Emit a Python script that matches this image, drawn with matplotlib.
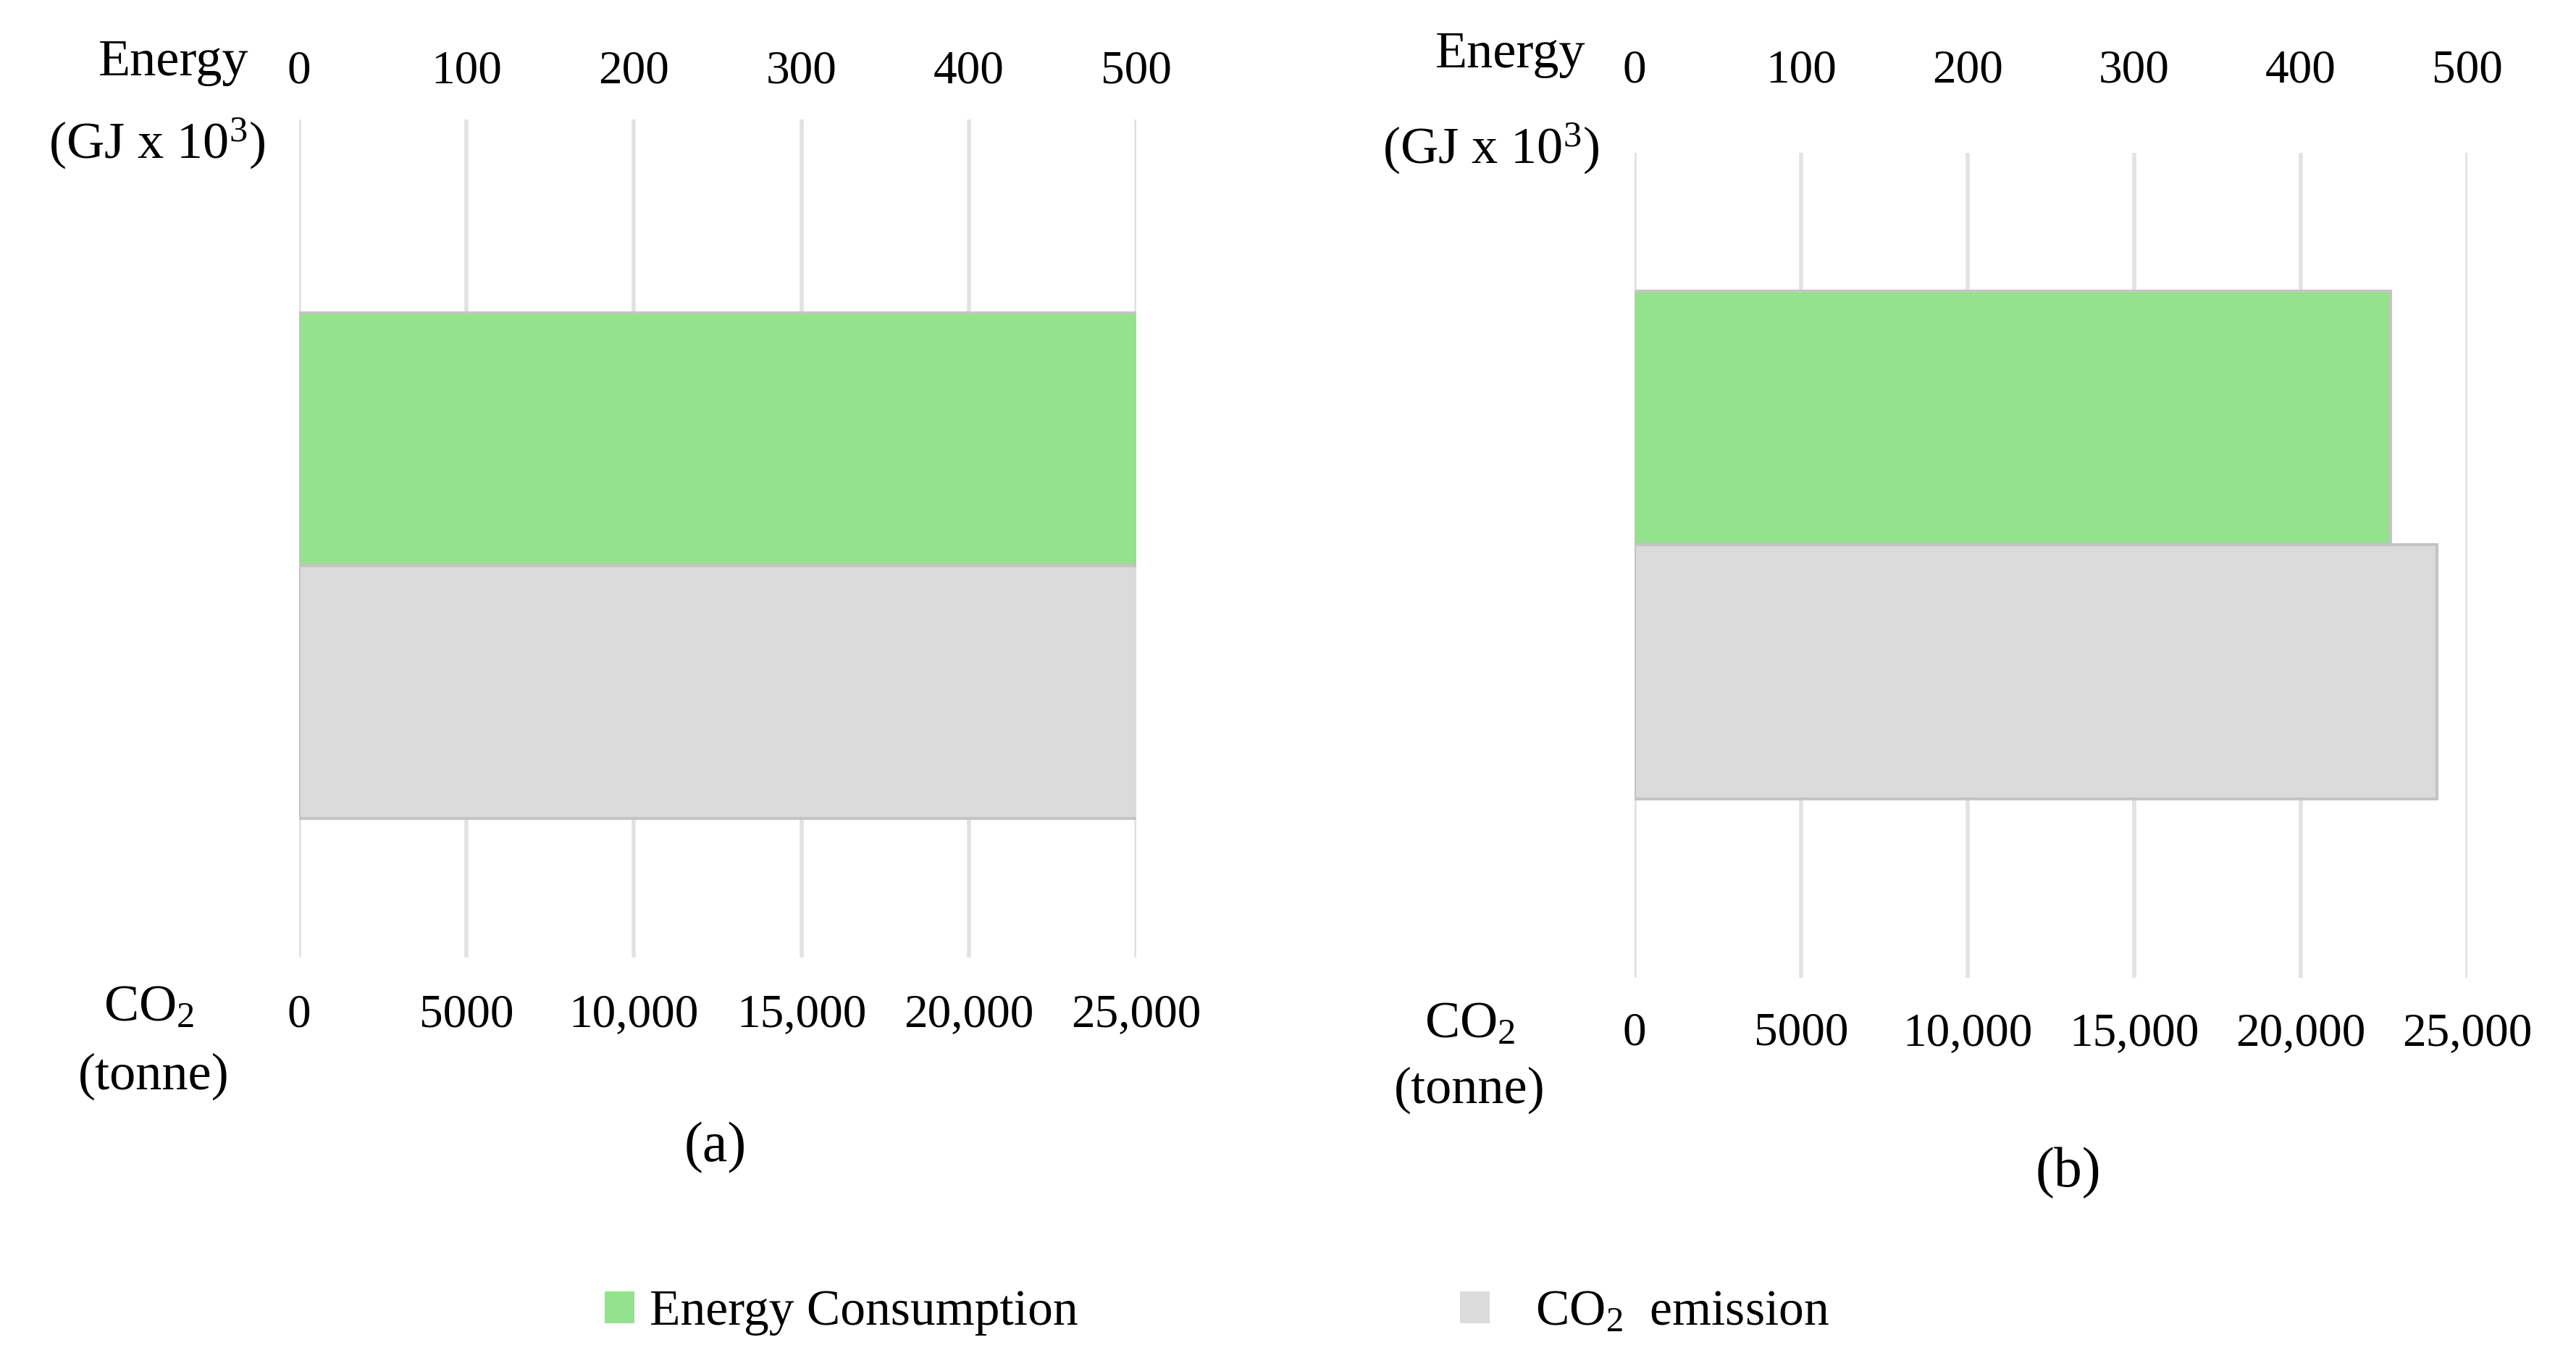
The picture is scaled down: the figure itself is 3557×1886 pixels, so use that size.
#!/usr/bin/env python3
"""Energy consumption vs CO2 emission, two panels with dual x scales."""

import matplotlib
matplotlib.use("Agg")
import matplotlib.pyplot as plt
from matplotlib.patches import Patch

plt.rcParams["font.family"] = ["Liberation Serif", "DejaVu Serif"]
plt.rcParams["mathtext.fontset"] = "custom"
plt.rcParams["mathtext.rm"] = "Liberation Serif"
plt.rcParams["mathtext.it"] = "Liberation Serif:italic"

# data
PANELS = ["(a)", "(b)"]
ENERGY_GJ_K = [502, 454]          # GJ x 10^3
CO2_TONNE = [25100, 24100]        # tonne
ENERGY_TICKS = [0, 100, 200, 300, 400, 500]
CO2_TICKS = [0, 5000, 10000, 15000, 20000, 25000]
CO2_TICK_LABELS = ["0", "5000", "10,000", "15,000", "20,000", "25,000"]
SERIES = ["Energy Consumption", "CO$_2$  emission"]

GREEN = "#93e28c"
GREY = "#dbdbdb"
EDGE = "#c4c4c4"
GRID = "#e2e2e2"
FS = 50
TICK_FS = 47

# layout per panel: axes rect, ylim, top pad, bottom pad, label positions
LAYOUT = [
    dict(rect=[0.1161, 0.299, 0.325, 0.6135], ylim=(-1.55, 1.765),
         top_pad=26, bot_pad=36,
         energy=(0.0673, 0.954), gj=(0.0609, 0.895),
         co2=(0.0577, 0.262), tonne=(0.0596, 0.212), tag=(0.2776, 0.160)),
    dict(rect=[0.6345, 0.2842, 0.3233, 0.6039], ylim=(-1.705, 1.545),
         top_pad=60, bot_pad=34,
         energy=(0.5865, 0.960), gj=(0.5788, 0.891),
         co2=(0.5705, 0.250), tonne=(0.5705, 0.202), tag=(0.803, 0.1415)),
]

fig = plt.figure(figsize=(35.57, 18.86), dpi=100)

for i, lay in enumerate(LAYOUT):
    ax = fig.add_axes(lay["rect"])
    ax_top = ax.twiny()

    ax.barh(-0.5, CO2_TONNE[i], height=1.0, color=GREY,
            edgecolor=EDGE, linewidth=3, zorder=2)
    ax_top.barh(0.5, ENERGY_GJ_K[i], height=1.0, color=GREEN,
                edgecolor=EDGE, linewidth=3, zorder=2)

    ax.set_xlim(0, 25000)
    ax_top.set_xlim(0, 500)
    ax.set_ylim(*lay["ylim"])

    ax.set_xticks(CO2_TICKS)
    ax.set_xticklabels(CO2_TICK_LABELS)
    ax_top.set_xticks(ENERGY_TICKS)
    ax_top.set_xticklabels([str(t) for t in ENERGY_TICKS])
    ax.set_yticks([])

    ax.set_axisbelow(True)
    ax.xaxis.grid(True, color=GRID, linewidth=4)

    for a in (ax, ax_top):
        for sp in a.spines.values():
            sp.set_visible(False)
    ax.tick_params(axis="x", length=0, pad=lay["bot_pad"], labelsize=TICK_FS)
    ax_top.tick_params(axis="x", length=0, pad=lay["top_pad"], labelsize=TICK_FS)

    fig.text(*lay["energy"], "Energy", ha="center", va="center", fontsize=FS + 2)
    fig.text(*lay["gj"], "(GJ x 10$^3$)", ha="center", va="center", fontsize=FS + 2)
    fig.text(*lay["co2"], "CO$_2$", ha="center", va="center", fontsize=FS + 2)
    fig.text(*lay["tonne"], "(tonne)", ha="center", va="center", fontsize=FS + 2)
    fig.text(*lay["tag"], PANELS[i], ha="center", va="center", fontsize=FS + 6)

# two separate legend entries so each can sit where the original has it
for colour, label, x0, tpad in [(GREEN, SERIES[0], 0.2347, 0.3),
                                (GREY, SERIES[1], 0.5667, 0.9)]:
    fig.legend([Patch(facecolor=colour, edgecolor="none")], [label],
               loc="center left", bbox_to_anchor=(x0, 0.039),
               frameon=False, fontsize=FS, handlelength=0.6,
               handleheight=0.6, handletextpad=tpad,
               borderpad=0, borderaxespad=0)

fig.savefig("out.png", dpi=100, facecolor="white")
